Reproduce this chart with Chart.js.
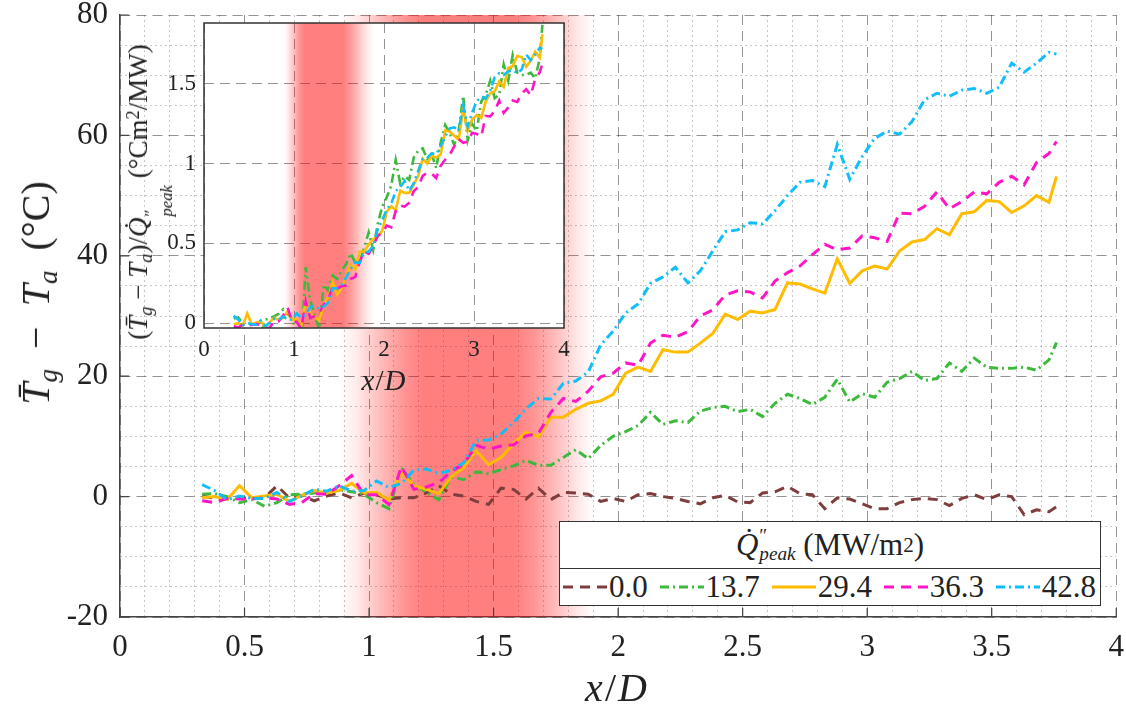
<!DOCTYPE html>
<html>
<head>
<meta charset="utf-8">
<script src="https://cdn.jsdelivr.net/npm/chart.js@4.4.0/dist/chart.umd.min.js"></script>
<style>
body { margin: 0; background: #fff; }
#wrap { position: relative; width: 1126px; height: 713px; font-family: 'Liberation Serif', 'Times New Roman', Tinos, 'DejaVu Serif', serif; color: #222; }
canvas { position: absolute; }
#main { left: 0; top: 0; }
#inset { left: 120px; top: 0; }
.lab { position: absolute; white-space: nowrap; transform: translate(-50%, -50%); line-height: 1; }
.rot { transform: translate(-50%, -50%) rotate(-90deg); }
sub, sup { font-size: 0.68em; line-height: 0; }
sub { vertical-align: -0.28em; }
sup { vertical-align: 0.45em; }
.ss { display: inline-flex; flex-direction: column; font-size: 0.62em; line-height: 0.95; vertical-align: -0.55em; margin-left: 1px; }
.ss i { font-style: italic; }
#legend { position: absolute; left: 559px; top: 521px; width: 542px; height: 85px; box-sizing: border-box;
  border: 1.5px solid #333; background: #fff; font-size: 31px; }
#legend .lt { height: 46px; border-bottom: 1.5px solid #333; display: flex; align-items: center; justify-content: center; }
#legend .lr { height: 35px; display: flex; align-items: center; justify-content: space-between; padding: 0 4px 0 3px; }
#legend .item { display: flex; align-items: center; }
#legend .item svg { margin-right: 2px; }
</style>
</head>
<body>
<div id="wrap">
  <canvas id="main" width="1126" height="713"></canvas>
  <canvas id="inset" width="470" height="400"></canvas>
  <div class="lab rot" style="left:36px;top:293px;font-size:40px"><i>T&#772;</i><sub><i>g</i></sub> &nbsp;&minus;&nbsp; <i>T</i><sub><i>a</i></sub> &nbsp;(&deg;C)</div>
  <div class="lab" style="left:617px;top:688px;font-size:40px;letter-spacing:2px"><i>x</i>/<i>D</i></div>
  <div class="lab rot" style="left:150px;top:192px;font-size:27px">(<i>T&#772;</i><sub><i>g</i></sub> &minus; <i>T</i><sub><i>a</i></sub>)/<i>Q&#775;</i><span class="ss"><span>&Prime;</span><i>peak</i></span> (&deg;Cm<sup>2</sup>/MW)</div>
  <div class="lab" style="left:384px;top:380px;font-size:29px;letter-spacing:1px"><i>x</i>/<i>D</i></div>
  <div id="legend">
    <div class="lt"><i>Q&#775;</i><span class="ss"><span>&Prime;</span><i>peak</i></span>&nbsp;(MW/m<sup>2</sup>)</div>
    <div class="lr" id="legRow"></div>
  </div>
</div>
<script>
// x/D positions shared by every series
var xD = [0.33, 0.38, 0.43, 0.48, 0.53, 0.58, 0.63, 0.68, 0.73, 0.78,
          0.83, 0.88, 0.93, 0.98, 1.03, 1.08, 1.13, 1.18, 1.23, 1.28,
          1.33, 1.38, 1.43, 1.48, 1.53, 1.58, 1.63, 1.68, 1.73, 1.78,
          1.83, 1.88, 1.93, 1.98, 2.03, 2.08, 2.13, 2.18, 2.23, 2.28,
          2.33, 2.38, 2.43, 2.48, 2.53, 2.58, 2.63, 2.68, 2.73, 2.78,
          2.83, 2.88, 2.93, 2.98, 3.03, 3.08, 3.13, 3.18, 3.23, 3.28,
          3.33, 3.38, 3.43, 3.48, 3.53, 3.58, 3.63, 3.68, 3.73, 3.76];

// Tg - Ta (degC) per peak heat flux
var q0_0 = [0.1, -0.3, -0.4, -0.2, -0.3, -0.2, 1.8, -0.2, 0.2, -0.7,
            0.1, 0.6, -0.2, 0.6, 0.3, -0.4, -0.2, -0.2, 0.6, 1.8,
            0.4, 0.1, -0.8, -1.3, 1.4, 1.2, -0.4, 1.4, -0.5, 0.7,
            0.6, 0.4, -0.8, -0.3, -0.8, 0.3, 0.5, 0.0, -0.3, -0.8,
            -1.2, -0.2, 0.2, -0.9, -1.0, 0.6, 0.8, 1.7, 0.5, 0.3,
            -2.0, -0.2, -0.4, -1.2, -2.0, -2.0, -1.0, -0.5, -0.3, -0.5,
            -1.5, -0.3, 0.3, -0.5, 0.3, 0.0, -3.0, -2.2, -2.5, -1.7];
var q13_7 = [0.4, 0.5, 0.0, -1.0, -0.5, -1.6, -1.0, 0.3, 0.4, 0.6,
             0.8, 1.2, 0.8, 0.4, -1.0, -2.0, 4.8, 2.0, 0.7, -0.5,
             3.3, 2.8, 4.1, 3.8, 4.5, 5.1, 6.0, 5.2, 5.2, 6.5,
             7.8, 6.3, 8.5, 10.0, 10.8, 11.8, 14.0, 12.0, 12.6, 12.3,
             14.2, 14.8, 15.0, 14.1, 14.5, 13.3, 15.5, 17.0, 16.3, 15.3,
             16.5, 19.5, 15.7, 17.1, 16.5, 19.0, 19.6, 20.8, 19.3, 19.6,
             22.2, 20.8, 23.0, 21.5, 21.3, 21.3, 21.5, 21.0, 22.7, 25.6];
var q29_4 = [-0.2, 0.0, -0.5, 1.8, -0.2, 0.1, 0.4, -0.8, 0.2, 1.0,
             0.6, 1.0, 2.2, 0.6, 0.7, -0.6, 4.0, 1.8, 1.2, 0.5,
             3.3, 4.8, 7.6, 5.3, 6.5, 8.8, 10.7, 9.9, 13.2, 13.2,
             14.5, 15.5, 15.9, 17.0, 20.5, 21.5, 20.8, 24.4, 24.0, 24.0,
             25.5, 27.1, 30.3, 29.4, 30.8, 30.5, 31.1, 35.5, 35.3, 34.5,
             33.8, 39.5, 35.4, 37.5, 38.3, 37.8, 40.8, 42.3, 42.7, 44.5,
             43.5, 47.0, 47.3, 49.2, 49.0, 47.2, 48.3, 50.0, 48.9, 53.2];
var q36_3 = [-0.7, -1.0, -0.3, -0.4, -0.4, -0.2, -0.4, -1.3, -1.0, 0.5,
             0.4, 1.8, 3.5, 0.3, 0.3, -1.3, 5.0, 1.2, 1.6, 2.3,
             4.2, 5.4, 8.5, 7.9, 8.4, 8.6, 10.1, 10.5, 14.0, 16.3,
             15.8, 17.5, 19.9, 20.5, 22.2, 21.8, 25.5, 26.8, 26.5, 27.4,
             30.0, 31.0, 33.5, 34.2, 34.0, 33.0, 35.8, 37.2, 38.3, 40.2,
             41.9, 41.0, 41.3, 43.3, 43.0, 42.4, 47.1, 47.0, 48.2, 50.6,
             47.8, 49.0, 50.6, 50.3, 52.2, 53.2, 51.8, 55.5, 57.0, 59.0];
var q42_8 = [2.0, 1.0, -0.5, 0.1, -0.3, -0.3, 0.7, -0.8, 0.1, 1.2,
             0.9, 1.8, 0.9, 1.0, 2.6, 1.5, 2.2, 4.4, 4.6, 3.8,
             4.4, 5.6, 9.3, 9.4, 10.4, 12.3, 14.6, 16.3, 16.2, 18.8,
             19.2, 20.7, 25.2, 27.5, 30.5, 32.0, 35.4, 36.5, 38.1, 35.5,
             37.5, 40.8, 44.0, 44.3, 45.5, 45.3, 47.5, 50.0, 52.2, 52.5,
             51.5, 58.5, 52.7, 56.5, 59.5, 60.7, 60.2, 62.3, 65.9, 67.0,
             66.5, 67.5, 67.8, 67.0, 68.0, 72.0, 70.5, 72.0, 73.8, 73.5];

var seriesNames = ['0.0', '13.7', '29.4', '36.3', '42.8'];
var qPeak = [0.0, 13.7, 29.4, 36.3, 42.8];
var seriesValues = [q0_0, q13_7, q29_4, q36_3, q42_8];

var xTickLabels = ['0', '0.5', '1', '1.5', '2', '2.5', '3', '3.5', '4'];
var yTickLabels = ['-20', '0', '20', '40', '60', '80'];
var insetXTickLabels = ['0', '1', '2', '3', '4'];
var insetYTickLabels = ['0', '0.5', '1', '1.5'];

// heated zone shading, [x/D, opacity]
var mainBand = [[0.88, 0], [0.95, 0.08], [1.0, 0.18], [1.08, 0.32], [1.15, 0.43], [1.22, 0.5],
                [1.58, 0.5], [1.66, 0.42], [1.74, 0.28], [1.82, 0.12], [1.9, 0]];
var insetBand = [[0.9, 0], [0.95, 0.12], [1.0, 0.26], [1.06, 0.42], [1.12, 0.5],
                 [1.55, 0.5], [1.64, 0.38], [1.75, 0.18], [1.88, 0]];

var lineColors = ['#7e3e3e', '#3dba3d', '#ffbc00', '#ff14c8', '#12bef7'];
var lineDashes = [[10, 7], [9, 4, 2, 4], [], [10, 7], [9, 4, 2, 4]];

var serif = "'Liberation Serif', 'Times New Roman', Tinos, 'DejaVu Serif', serif";
var gridMajor = 'rgba(0,0,0,0.42)';
var gridMinor = 'rgba(0,0,0,0.22)';

function isStep(v, step) {
	var r = v / step;
	return Math.abs(r - Math.round(r)) < 1e-6;
}

function makeSets(inset) {
	var out = [];
	for (var i = 0; i < seriesValues.length; i++) {
		if (inset && qPeak[i] === 0) continue;
		var pts = [];
		for (var k = 0; k < xD.length; k++) {
			// inset is the same data normalised by the peak heat flux
			pts.push({ x: xD[k], y: inset ? seriesValues[i][k] / qPeak[i] : seriesValues[i][k] });
		}
		out.push({
			label: seriesNames[i],
			data: pts,
			borderColor: lineColors[i],
			borderWidth: inset ? 2.6 : 3,
			borderDash: lineDashes[i],
			pointRadius: 0,
			fill: false,
			tension: 0,
			order: seriesValues.length - i
		});
	}
	return out;
}

function bandPlugin(stops) {
	return {
		id: 'band',
		beforeDatasetsDraw: function(chart) {
			var a = chart.chartArea, xs = chart.scales.x, ctx = chart.ctx;
			var x0 = xs.getPixelForValue(stops[0][0]);
			var x1 = xs.getPixelForValue(stops[stops.length - 1][0]);
			var g = ctx.createLinearGradient(x0, 0, x1, 0);
			stops.forEach(function(s) {
				g.addColorStop((xs.getPixelForValue(s[0]) - x0) / (x1 - x0), 'rgba(255,0,0,' + s[1] + ')');
			});
			ctx.save();
			ctx.fillStyle = g;
			ctx.fillRect(x0, a.top, x1 - x0, a.bottom - a.top);
			ctx.restore();
		}
	};
}

// short inward tick marks on the bottom and left axes
var innerTicks = {
	id: 'innerTicks',
	afterDatasetsDraw: function(chart) {
		var a = chart.chartArea, ctx = chart.ctx;
		ctx.save();
		ctx.strokeStyle = '#444';
		ctx.lineWidth = 1.2;
		ctx.beginPath();
		chart.scales.x.ticks.forEach(function(t) {
			var px = chart.scales.x.getPixelForValue(t.value);
			ctx.moveTo(px, a.bottom);
			ctx.lineTo(px, a.bottom - 9);
		});
		chart.scales.y.ticks.forEach(function(t) {
			var py = chart.scales.y.getPixelForValue(t.value);
			ctx.moveTo(a.left, py);
			ctx.lineTo(a.left + 9, py);
		});
		ctx.stroke();
		ctx.restore();
	}
};

var insetFrame = {
	id: 'frame',
	beforeDraw: function(chart) {
		var a = chart.chartArea, ctx = chart.ctx;
		ctx.save();
		ctx.fillStyle = '#fff';
		ctx.fillRect(a.left, a.top, a.right - a.left, a.bottom - a.top);
		ctx.restore();
	},
	afterDatasetsDraw: function(chart) {
		var a = chart.chartArea, ctx = chart.ctx;
		ctx.save();
		ctx.strokeStyle = '#333';
		ctx.lineWidth = 1.5;
		ctx.strokeRect(a.left, a.top, a.right - a.left, a.bottom - a.top);
		ctx.restore();
	}
};

function drawMain() {
	var ctx = document.getElementById('main').getContext('2d');
	new Chart(ctx, {
		type: 'line',
		data: { datasets: makeSets(false) },
		options: {
			responsive: false,
			animation: false,
			layout: { padding: { top: 15, right: 2, left: 0, bottom: 0 } },
			plugins: { legend: { display: false }, tooltip: { enabled: false } },
			scales: {
				x: {
					type: 'linear', min: 0, max: 4,
					ticks: {
						stepSize: 0.5, padding: 2, color: '#222', maxRotation: 0, autoSkip: false,
						font: { family: serif, size: 31, lineHeight: 1.85 },
						callback: function(v) { return xTickLabels[Math.round(v / 0.5)]; }
					},
					grid: { color: gridMajor, lineWidth: 1, drawTicks: false },
					border: { display: true, color: '#444', width: 1.5, dash: [10, 6] },
					afterFit: function(s) { s.height = 96; }
				},
				xMinor: {
					type: 'linear', position: 'bottom', min: 0, max: 4,
					ticks: { stepSize: 0.1, display: false },
					grid: {
						drawTicks: false, lineWidth: 1,
						color: function(c) { return isStep(c.tick.value, 0.5) ? 'rgba(0,0,0,0)' : gridMinor; }
					},
					border: { display: false, dash: [2, 3] },
					afterFit: function(s) { s.height = 0; }
				},
				y: {
					type: 'linear', min: -20, max: 80,
					ticks: {
						stepSize: 20, padding: 12, color: '#222',
						font: { family: serif, size: 31, lineHeight: 0.1 },
						callback: function(v) { return yTickLabels[Math.round((v + 20) / 20)]; }
					},
					grid: { color: gridMajor, lineWidth: 1, drawTicks: false },
					border: { display: true, color: '#444', width: 1.5, dash: [10, 6] },
					afterFit: function(s) { s.width = 120; }
				},
				yMinor: {
					type: 'linear', position: 'left', min: -20, max: 80,
					ticks: { stepSize: 5, display: false },
					grid: {
						drawTicks: false, lineWidth: 1,
						color: function(c) { return isStep(c.tick.value, 20) ? 'rgba(0,0,0,0)' : gridMinor; }
					},
					border: { display: false, dash: [2, 3] },
					afterFit: function(s) { s.width = 0; }
				}
			}
		},
		plugins: [bandPlugin(mainBand), innerTicks]
	});
}

function drawInset() {
	var ctx = document.getElementById('inset').getContext('2d');
	new Chart(ctx, {
		type: 'line',
		data: { datasets: makeSets(true) },
		options: {
			responsive: false,
			animation: false,
			layout: { padding: { top: 23, right: 26, left: 0, bottom: 0 } },
			plugins: { legend: { display: false }, tooltip: { enabled: false } },
			scales: {
				x: {
					type: 'linear', min: 0, max: 4,
					ticks: {
						stepSize: 1, padding: 8, color: '#222', maxRotation: 0,
						font: { family: serif, size: 23 },
						callback: function(v) { return insetXTickLabels[Math.round(v)]; }
					},
					grid: { color: gridMajor, lineWidth: 1, drawTicks: false },
					border: { display: false, dash: [10, 6] },
					afterFit: function(s) { s.height = 72; }
				},
				y: {
					type: 'linear', min: -0.03, max: 1.88,
					ticks: {
						stepSize: 0.5, includeBounds: false, padding: 8, color: '#222',
						font: { family: serif, size: 23, lineHeight: 0.1 },
						callback: function(v) { return insetYTickLabels[Math.round(v / 0.5)]; }
					},
					grid: { color: gridMajor, lineWidth: 1, drawTicks: false },
					border: { display: false, dash: [10, 6] },
					afterFit: function(s) { s.width = 84; }
				}
			}
		},
		plugins: [insetFrame, bandPlugin(insetBand)]
	});
}

function drawLegend() {
	var row = document.getElementById('legRow');
	for (var i = 0; i < seriesNames.length; i++) {
		var item = document.createElement('span');
		item.className = 'item';
		var dash = lineDashes[i].length ? lineDashes[i].join(' ') : 'none';
		item.innerHTML = '<svg width="44" height="10"><line x1="0" y1="5" x2="44" y2="5" stroke="' + lineColors[i] +
			'" stroke-width="3" stroke-dasharray="' + dash + '"/></svg>' + seriesNames[i];
		row.appendChild(item);
	}
}

drawMain();
drawInset();
drawLegend();
</script>
</body>
</html>
